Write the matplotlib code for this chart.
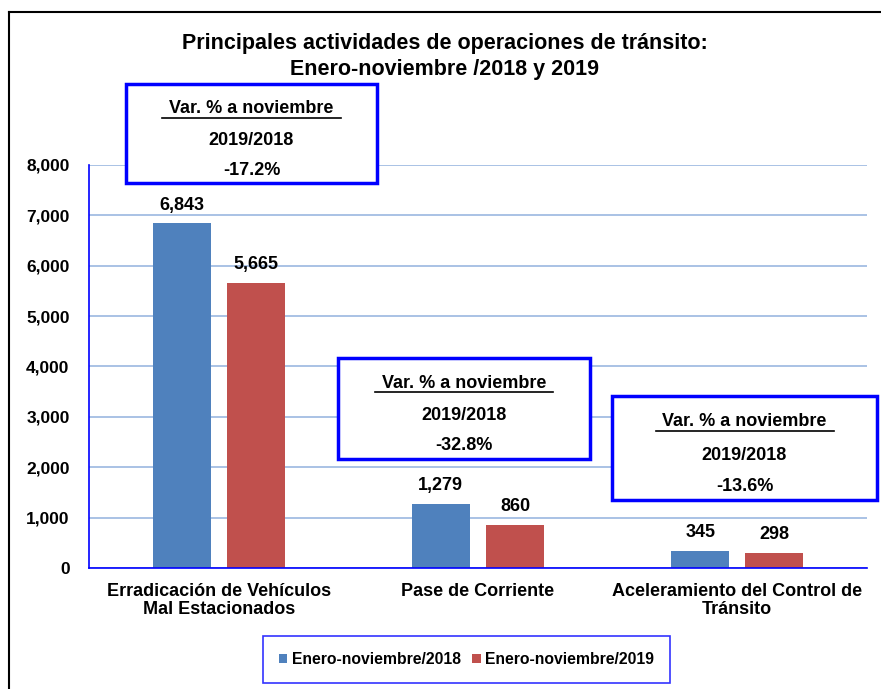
import matplotlib
matplotlib.use("Agg")
import matplotlib.pyplot as plt
import numpy as np
from matplotlib.lines import Line2D
from matplotlib.patches import Rectangle

plt.rcParams['font.family'] = ['Liberation Sans', 'DejaVu Sans']

categories = ["Erradicación de Vehículos\nMal Estacionados", "Pase de Corriente",
              "Aceleramiento del Control de\nTránsito"]
series_names = ["Enero-noviembre/2018", "Enero-noviembre/2019"]
values_2018 = [6843, 1279, 345]
values_2019 = [5665, 860, 298]
variations = ["-17.2%", "-32.8%", "-13.6%"]
yticks = [0, 1000, 2000, 3000, 4000, 5000, 6000, 7000, 8000]

blue = "#4f81bd"
red = "#c0504d"
frame_blue = "#0000ff"

fig = plt.figure(figsize=(8.81, 6.89), dpi=100)
ax = fig.add_axes([0.101, 0.1756, 0.883, 0.585])

x = np.arange(len(categories))
w = 0.224
off = 0.143
b1 = ax.bar(x - off, values_2018, w, color=blue, label=series_names[0], zorder=3)
b2 = ax.bar(x + off, values_2019, w, color=red, label=series_names[1], zorder=3)
for bars in (b1, b2):
    ax.bar_label(bars, labels=[f"{v:,}" for v in bars.datavalues], padding=7,
                 fontsize=13, fontweight='bold')

ax.set_xlim(-0.5, 2.5)
ax.set_ylim(0, 8000)
ax.set_yticks(yticks)
ax.set_yticklabels([f"{v:,}" for v in yticks], fontsize=12.5, fontweight='bold')
ax.set_xticks(x)
ax.set_xticklabels(categories, fontsize=13, fontweight='bold', linespacing=1.05)
ax.tick_params(axis='y', length=0, pad=14)
ax.tick_params(axis='x', length=0, pad=11)
ax.grid(axis='y', color='#9bb7e0', linewidth=1.2, zorder=0)
for s in ('top', 'right'):
    ax.spines[s].set_visible(False)
for s in ('left', 'bottom'):
    ax.spines[s].set_color(frame_blue)
    ax.spines[s].set_linewidth(1.2)
    ax.spines[s].set_zorder(4)

fig.text(0.505, 0.937, "Principales actividades de operaciones de tránsito:",
         ha='center', va='center', fontsize=15.5, fontweight='bold')
fig.text(0.505, 0.899, "Enero-noviembre /2018 y 2019",
         ha='center', va='center', fontsize=15.5, fontweight='bold')

# variation boxes (pixel positions: left, top, right, bottom)
boxes = [(126, 84, 377, 183), (338, 358, 590, 459), (612, 396, 877, 500)]
W, H = 881, 689
for (l, t, r, b), var in zip(boxes, variations):
    fig.add_artist(Rectangle((l / W, 1 - b / H), (r - l) / W, (b - t) / H,
                             transform=fig.transFigure, facecolor='white',
                             edgecolor=frame_blue, linewidth=2.5, zorder=5))
    cx = (l + r) / 2 / W
    hgt = b - t
    fig.text(cx, 1 - (t + hgt * 0.25) / H, "Var. % a noviembre", ha='center',
             va='center', fontsize=13, fontweight='bold', zorder=6)
    # underline
    fig.add_artist(Line2D([cx - 89 / W, cx + 89 / W],
                          [1 - (t + hgt * 0.25 + 9) / H] * 2,
                          transform=fig.transFigure, color='black', linewidth=1.2,
                          zorder=6))
    fig.text(cx, 1 - (t + hgt * 0.57) / H, "2019/2018", ha='center', va='center',
             fontsize=13, fontweight='bold', zorder=6)
    fig.text(cx, 1 - (t + hgt * 0.87) / H, var, ha='center', va='center',
             fontsize=13, fontweight='bold', zorder=6)

leg = fig.legend(handles=[b1, b2], labels=series_names, loc='center',
                 bbox_to_anchor=(466.5 / W, 1 - 659.5 / H), ncol=2, frameon=True,
                 fancybox=False, edgecolor=frame_blue,
                 prop={'weight': 'bold', 'size': 11.3}, handlelength=0.55,
                 handleheight=0.55, handletextpad=0.3, columnspacing=0.7,
                 borderpad=1.0, borderaxespad=0)
leg.get_frame().set_linewidth(1.2)

# outer chart frame
fig.add_artist(Line2D([9 / W, 9 / W], [0, 1 - 12 / H], transform=fig.transFigure,
                      color='black', linewidth=1.5))
fig.add_artist(Line2D([9 / W, 1], [1 - 12 / H, 1 - 12 / H], transform=fig.transFigure,
                      color='black', linewidth=1.5))

fig.savefig("out.png", dpi=100)
